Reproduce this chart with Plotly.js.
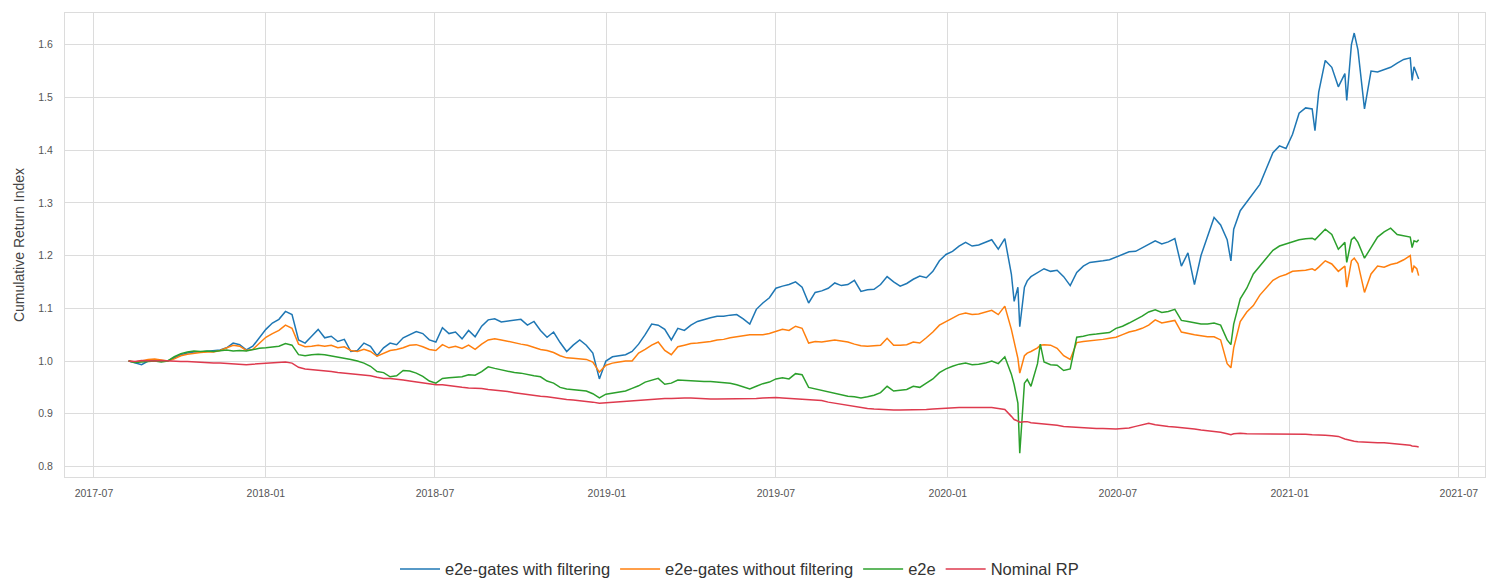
<!DOCTYPE html>
<html>
<head>
<meta charset="utf-8">
<script src="https://cdn.plot.ly/plotly-3.0.1.min.js"></script>
<style>html,body{margin:0;padding:0;background:#fff;}#chart{width:1503px;height:582px;}</style>
</head>
<body>
<div id="chart"></div>
<script>
const seriesNames = ["e2e-gates with filtering", "e2e-gates without filtering", "e2e", "Nominal RP"];

const dates = [
"2017-08-07","2017-08-14","2017-08-21","2017-08-28","2017-09-04","2017-09-11","2017-09-18","2017-09-25",
"2017-10-02","2017-10-09","2017-10-16","2017-10-23","2017-10-30","2017-11-06","2017-11-13","2017-11-20",
"2017-11-27","2017-12-04","2017-12-11","2017-12-18","2017-12-25","2018-01-01","2018-01-08","2018-01-15",
"2018-01-22","2018-01-29","2018-02-05","2018-02-12","2018-02-19","2018-02-26","2018-03-05","2018-03-12",
"2018-03-19","2018-03-26","2018-04-02","2018-04-09","2018-04-16","2018-04-23","2018-04-30","2018-05-07",
"2018-05-14","2018-05-21","2018-05-28","2018-06-04","2018-06-11","2018-06-18","2018-06-25","2018-07-02",
"2018-07-09","2018-07-16","2018-07-23","2018-07-30","2018-08-06","2018-08-13","2018-08-20","2018-08-27",
"2018-09-03","2018-09-10","2018-09-17","2018-09-24","2018-10-01","2018-10-08","2018-10-15","2018-10-22",
"2018-10-29","2018-11-05","2018-11-12","2018-11-19","2018-11-26","2018-12-03","2018-12-10","2018-12-17",
"2018-12-24","2018-12-31","2019-01-07","2019-01-14","2019-01-21","2019-01-28","2019-02-04","2019-02-11",
"2019-02-18","2019-02-25","2019-03-04","2019-03-11","2019-03-18","2019-03-25","2019-04-01","2019-04-08",
"2019-04-15","2019-04-22","2019-04-29","2019-05-06","2019-05-13","2019-05-20","2019-05-27","2019-06-03",
"2019-06-10","2019-06-17","2019-06-24","2019-07-01","2019-07-08","2019-07-15","2019-07-22","2019-07-29",
"2019-08-05","2019-08-12","2019-08-19","2019-08-26","2019-09-02","2019-09-09","2019-09-16","2019-09-23",
"2019-09-30","2019-10-07","2019-10-14","2019-10-21","2019-10-28","2019-11-04","2019-11-11","2019-11-18",
"2019-11-25","2019-12-02","2019-12-09","2019-12-16","2019-12-23","2019-12-30","2020-01-06","2020-01-13",
"2020-01-20","2020-01-27","2020-02-03","2020-02-10","2020-02-17","2020-02-24","2020-03-02","2020-03-09",
"2020-03-12","2020-03-16","2020-03-18","2020-03-23","2020-03-26","2020-03-30","2020-04-06","2020-04-09",
"2020-04-13","2020-04-20","2020-04-27","2020-05-04","2020-05-11","2020-05-18","2020-05-25","2020-06-01",
"2020-06-08","2020-06-15","2020-06-22","2020-06-29","2020-07-06","2020-07-13","2020-07-20","2020-07-27",
"2020-08-03","2020-08-10","2020-08-17","2020-08-24","2020-08-31","2020-09-07","2020-09-14","2020-09-21",
"2020-09-28","2020-10-05","2020-10-12","2020-10-19","2020-10-26","2020-10-30","2020-11-02","2020-11-09",
"2020-11-16","2020-11-23","2020-11-30","2020-12-07","2020-12-14","2020-12-21","2020-12-28","2021-01-04",
"2021-01-11","2021-01-18","2021-01-25","2021-01-28","2021-02-01","2021-02-08","2021-02-15","2021-02-22",
"2021-03-01","2021-03-03","2021-03-08","2021-03-11","2021-03-15","2021-03-22","2021-03-29","2021-04-05",
"2021-04-12","2021-04-19","2021-04-26","2021-05-03","2021-05-10","2021-05-12","2021-05-14","2021-05-17",
"2021-05-19"
];

const gatesFiltering = [
1.000,0.996,0.993,1.000,1.002,1.000,1.000,1.006,
1.012,1.015,1.017,1.017,1.018,1.020,1.021,1.025,
1.034,1.031,1.021,1.028,1.044,1.060,1.072,1.079,
1.094,1.088,1.040,1.034,1.047,1.060,1.044,1.047,
1.037,1.041,1.018,1.020,1.034,1.028,1.010,1.025,
1.034,1.031,1.044,1.050,1.056,1.052,1.040,1.036,
1.063,1.052,1.055,1.042,1.058,1.046,1.066,1.078,
1.080,1.074,1.076,1.078,1.079,1.068,1.075,1.058,
1.045,1.055,1.035,1.018,1.030,1.040,1.030,1.015,
0.966,1.000,1.008,1.010,1.012,1.018,1.032,1.050,
1.070,1.068,1.060,1.040,1.062,1.058,1.068,1.075,
1.079,1.082,1.085,1.085,1.087,1.088,1.080,1.070,
1.098,1.110,1.120,1.138,1.142,1.145,1.150,1.140,
1.110,1.130,1.133,1.138,1.148,1.143,1.145,1.153,
1.132,1.135,1.136,1.145,1.160,1.150,1.142,1.147,
1.155,1.161,1.158,1.170,1.190,1.202,1.208,1.218,
1.225,1.218,1.220,1.225,1.230,1.212,1.232,1.165,
1.113,1.140,1.065,1.140,1.152,1.160,1.168,1.172,
1.175,1.170,1.172,1.160,1.143,1.168,1.180,1.187,
1.188,1.190,1.192,1.197,1.203,1.207,1.208,1.215,
1.222,1.228,1.222,1.226,1.232,1.180,1.205,1.145,
1.200,1.235,1.272,1.258,1.230,1.190,1.250,1.285,
1.302,1.318,1.335,1.365,1.395,1.408,1.403,1.430,
1.470,1.480,1.478,1.437,1.510,1.570,1.557,1.520,
1.545,1.494,1.600,1.622,1.590,1.478,1.550,1.548,
1.552,1.557,1.565,1.572,1.575,1.532,1.558,1.545,
1.535
];

const gatesNoFiltering = [
1.000,0.998,1.000,1.003,1.004,1.002,1.000,1.004,
1.010,1.013,1.015,1.016,1.017,1.017,1.020,1.025,
1.030,1.028,1.020,1.022,1.034,1.045,1.052,1.058,
1.068,1.062,1.032,1.027,1.028,1.030,1.028,1.030,
1.025,1.027,1.020,1.018,1.022,1.018,1.009,1.015,
1.020,1.022,1.025,1.030,1.031,1.027,1.022,1.020,
1.031,1.025,1.028,1.024,1.030,1.022,1.032,1.040,
1.042,1.040,1.037,1.035,1.032,1.030,1.026,1.022,
1.020,1.016,1.010,1.006,1.005,1.004,1.003,0.998,
0.979,0.992,0.996,0.998,1.000,1.000,1.015,1.022,
1.030,1.036,1.020,1.012,1.027,1.030,1.033,1.034,
1.035,1.037,1.040,1.041,1.044,1.046,1.049,1.050,
1.050,1.050,1.052,1.056,1.060,1.058,1.066,1.062,
1.034,1.037,1.036,1.038,1.040,1.038,1.036,1.032,
1.029,1.028,1.029,1.030,1.043,1.030,1.030,1.031,
1.036,1.034,1.044,1.055,1.068,1.075,1.082,1.088,
1.091,1.088,1.089,1.092,1.096,1.088,1.104,1.060,
1.034,1.005,0.977,1.010,1.015,1.018,1.025,1.030,
1.031,1.030,1.024,1.010,1.003,1.035,1.037,1.038,
1.040,1.041,1.043,1.045,1.050,1.055,1.058,1.062,
1.068,1.078,1.072,1.075,1.077,1.055,1.052,1.050,
1.048,1.046,1.046,1.040,0.995,0.987,1.025,1.075,
1.093,1.105,1.125,1.140,1.153,1.160,1.164,1.170,
1.171,1.172,1.175,1.172,1.178,1.190,1.184,1.170,
1.180,1.140,1.190,1.195,1.185,1.130,1.165,1.180,
1.178,1.183,1.186,1.192,1.200,1.168,1.180,1.175,
1.162
];

const e2e = [
1.000,0.997,0.998,0.999,1.000,0.998,1.000,1.008,
1.014,1.017,1.019,1.018,1.019,1.018,1.020,1.021,
1.019,1.020,1.019,1.022,1.024,1.025,1.027,1.028,
1.033,1.030,1.012,1.010,1.012,1.013,1.012,1.010,
1.008,1.005,1.003,1.000,0.996,0.990,0.980,0.978,
0.970,0.972,0.982,0.981,0.977,0.971,0.962,0.958,
0.967,0.968,0.969,0.970,0.974,0.973,0.980,0.989,
0.986,0.983,0.980,0.978,0.977,0.974,0.972,0.970,
0.962,0.958,0.950,0.947,0.946,0.945,0.943,0.938,
0.930,0.937,0.939,0.941,0.943,0.948,0.953,0.960,
0.964,0.967,0.956,0.958,0.964,0.963,0.962,0.962,
0.961,0.961,0.960,0.959,0.958,0.955,0.951,0.947,
0.952,0.957,0.960,0.966,0.968,0.966,0.976,0.974,
0.950,0.947,0.945,0.942,0.938,0.935,0.933,0.932,
0.930,0.932,0.935,0.940,0.952,0.943,0.945,0.946,
0.952,0.950,0.958,0.966,0.978,0.985,0.990,0.994,
0.996,0.993,0.994,0.996,1.000,0.995,1.008,0.975,
0.955,0.920,0.825,0.958,0.965,0.952,0.995,1.032,
0.998,0.993,0.992,0.982,0.985,1.045,1.047,1.050,
1.051,1.052,1.054,1.062,1.066,1.072,1.078,1.085,
1.093,1.097,1.092,1.094,1.098,1.077,1.075,1.072,
1.070,1.070,1.072,1.068,1.040,1.031,1.070,1.118,
1.138,1.165,1.180,1.195,1.210,1.218,1.222,1.227,
1.230,1.232,1.233,1.230,1.238,1.250,1.240,1.212,
1.225,1.187,1.230,1.235,1.225,1.195,1.215,1.235,
1.245,1.252,1.240,1.238,1.235,1.215,1.228,1.226,
1.230
];

const nominalRP = [
1.000,0.999,1.001,1.000,1.000,1.001,1.000,1.000,
0.999,0.999,0.998,0.998,0.997,0.996,0.996,0.995,
0.994,0.994,0.993,0.994,0.995,0.996,0.996,0.997,
0.998,0.996,0.988,0.985,0.984,0.983,0.982,0.980,
0.978,0.977,0.976,0.974,0.973,0.972,0.969,0.967,
0.967,0.966,0.964,0.962,0.960,0.959,0.957,0.955,
0.955,0.953,0.952,0.950,0.949,0.949,0.948,0.946,
0.945,0.944,0.942,0.940,0.938,0.936,0.935,0.933,
0.932,0.930,0.928,0.927,0.926,0.925,0.923,0.922,
0.920,0.921,0.922,0.922,0.923,0.924,0.926,0.927,
0.928,0.929,0.929,0.929,0.930,0.930,0.930,0.929,
0.929,0.928,0.928,0.928,0.928,0.928,0.928,0.929,
0.929,0.930,0.931,0.931,0.930,0.929,0.929,0.928,
0.927,0.926,0.925,0.922,0.920,0.918,0.916,0.913,
0.911,0.910,0.909,0.908,0.907,0.907,0.907,0.907,
0.907,0.908,0.908,0.909,0.910,0.911,0.912,0.912,
0.912,0.912,0.911,0.911,0.912,0.910,0.908,0.895,
0.889,0.886,0.884,0.885,0.885,0.883,0.882,0.881,
0.880,0.879,0.878,0.876,0.875,0.874,0.873,0.873,
0.872,0.872,0.871,0.871,0.872,0.873,0.876,0.879,
0.882,0.879,0.877,0.876,0.875,0.874,0.872,0.871,
0.869,0.868,0.867,0.865,0.862,0.860,0.862,0.863,
0.862,0.862,0.861,0.861,0.862,0.862,0.862,0.862,
0.861,0.861,0.860,0.860,0.860,0.859,0.858,0.857,
0.852,0.851,0.849,0.848,0.847,0.846,0.845,0.845,
0.845,0.844,0.843,0.842,0.840,0.839,0.839,0.838,
0.837
];

const colors = ["#1f77b4", "#ff7f0e", "#2ca02c", "#de3a4e"];
const values = [gatesFiltering, gatesNoFiltering, e2e, nominalRP];

const traces = values.map((v, i) => ({
  x: dates, y: v, type: "scatter", mode: "lines", name: seriesNames[i],
  line: {color: colors[i], width: 1.5}
}));

const layout = {
  width: 1503, height: 582,
  paper_bgcolor: "#fff", plot_bgcolor: "#fff",
  margin: {l: 65, r: 18, t: 13, b: 105, autoexpand: false},
  font: {family: "Liberation Sans, Arial, sans-serif", color: "#444"},
  showlegend: true,
  legend: {orientation: "h", x: 0.475, xanchor: "center", xref: "paper",
           y: 0.022, yanchor: "middle", yref: "container",
           font: {size: 16.5, color: "#333"}, itemwidth: 40, tracegroupgap: 0},
  xaxis: {
    type: "date", range: ["2017-05-31", "2021-07-29"],
    tick0: "2017-07-01", dtick: "M6", tickformat: "%Y-%m",
    showgrid: true, gridcolor: "#dcdcdc", gridwidth: 1,
    showline: true, linecolor: "#dcdcdc", linewidth: 1, mirror: true,
    ticks: "outside", ticklen: 6, tickcolor: "rgba(0,0,0,0)",
    tickfont: {size: 10.5, color: "#555"}, zeroline: false
  },
  yaxis: {
    range: [0.780, 1.660], dtick: 0.1, tick0: 0.8, tickformat: ".1f",
    showgrid: true, gridcolor: "#dcdcdc", gridwidth: 1,
    showline: true, linecolor: "#dcdcdc", linewidth: 1, mirror: true,
    ticks: "outside", ticklen: 9, tickcolor: "rgba(0,0,0,0)",
    tickfont: {size: 10.5, color: "#555"}, zeroline: false,
    title: {text: "Cumulative Return Index", font: {size: 14, color: "#444"}, standoff: 10}
  }
};

Plotly.newPlot("chart", traces, layout, {displayModeBar: false, staticPlot: true});
</script>
</body>
</html>
